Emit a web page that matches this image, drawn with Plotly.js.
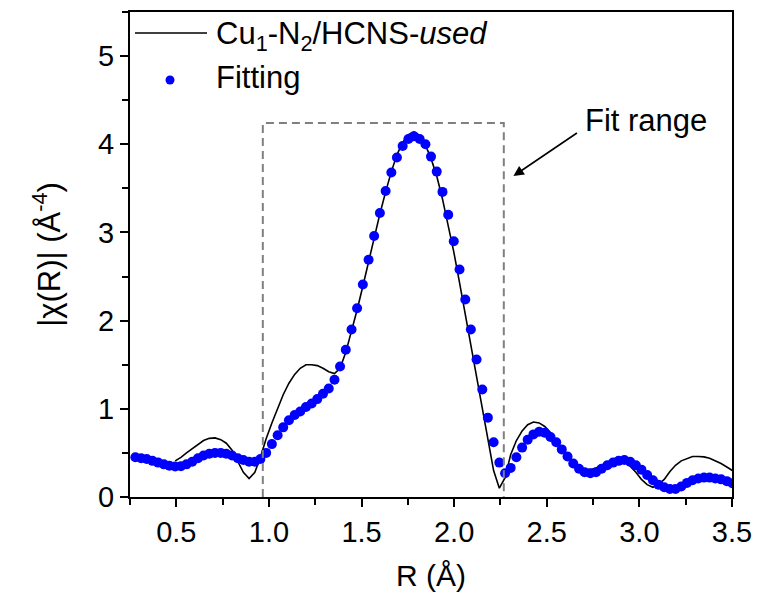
<!DOCTYPE html>
<html>
<head>
<meta charset="utf-8">
<script src="https://cdn.plot.ly/plotly-3.0.1.min.js"></script>
<style>html,body{margin:0;padding:0;background:#fff;}#chart{width:758px;height:598px;}</style>
</head>
<body>
<div id="chart"></div>
<script>
// R grid (Å) of the fitting points
const R_FIT = [0.279,0.310,0.340,0.371,0.402,0.433,0.463,0.494,0.525,0.555,0.586,0.617,0.647,0.678,0.709,0.740,0.770,0.801,0.832,0.862,0.893,0.924,0.954,0.985,1.016,1.047,1.077,1.108,1.139,1.169,1.200,1.231,1.261,1.292,1.323,1.354,1.384,1.415,1.446,1.476,1.507,1.538,1.568,1.599,1.630,1.661,1.691,1.722,1.753,1.783,1.814,1.845,1.875,1.906,1.937,1.968,1.998,2.029,2.060,2.090,2.121,2.152,2.182,2.213,2.244,2.275,2.305,2.336,2.367,2.397,2.428,2.459,2.489,2.520,2.551,2.581,2.612,2.643,2.674,2.704,2.735,2.766,2.796,2.827,2.858,2.888,2.919,2.950,2.981,3.011,3.042,3.073,3.103,3.134,3.165,3.195,3.226,3.257,3.287,3.318,3.349,3.379,3.410,3.441,3.472,3.502];
// |chi(R)| of the fit
const FIT = [0.45,0.44,0.43,0.41,0.39,0.37,0.355,0.345,0.35,0.37,0.40,0.44,0.47,0.49,0.50,0.50,0.49,0.47,0.44,0.42,0.40,0.40,0.43,0.50,0.60,0.70,0.79,0.87,0.93,0.97,1.02,1.06,1.11,1.17,1.23,1.33,1.48,1.67,1.90,2.14,2.41,2.69,2.96,3.22,3.47,3.68,3.85,3.98,4.06,4.09,4.06,4.00,3.86,3.69,3.46,3.20,2.90,2.58,2.24,1.90,1.56,1.22,0.90,0.62,0.39,0.27,0.33,0.45,0.56,0.65,0.71,0.74,0.73,0.68,0.62,0.54,0.46,0.38,0.32,0.28,0.27,0.28,0.32,0.36,0.39,0.41,0.42,0.40,0.36,0.31,0.25,0.19,0.14,0.11,0.09,0.09,0.12,0.16,0.19,0.21,0.22,0.22,0.21,0.20,0.18,0.155];
// R grid (Å) of the measured curve
const R_USED = [0.494,0.525,0.555,0.586,0.617,0.647,0.678,0.709,0.740,0.770,0.801,0.832,0.862,0.893,0.924,0.954,0.985,1.016,1.047,1.077,1.108,1.139,1.169,1.200,1.231,1.261,1.292,1.323,1.354,1.384,1.415,1.446,1.476,1.507,1.538,1.568,1.599,1.630,1.661,1.691,1.722,1.753,1.783,1.814,1.845,1.875,1.906,1.937,1.968,1.998,2.029,2.060,2.090,2.121,2.152,2.182,2.213,2.244,2.275,2.305,2.336,2.367,2.397,2.428,2.459,2.489,2.520,2.551,2.581,2.612,2.643,2.674,2.704,2.735,2.766,2.796,2.827,2.858,2.888,2.919,2.950,2.981,3.011,3.042,3.073,3.103,3.134,3.165,3.195,3.226,3.257,3.287,3.318,3.349,3.379,3.410,3.441,3.472,3.502];
// |chi(R)| of Cu1-N2/HCNS-used
const USED = [0.41,0.45,0.50,0.55,0.60,0.64,0.665,0.67,0.65,0.61,0.53,0.40,0.28,0.21,0.28,0.45,0.66,0.84,1.01,1.16,1.29,1.39,1.46,1.50,1.50,1.49,1.46,1.42,1.40,1.46,1.64,1.87,2.12,2.39,2.67,2.94,3.21,3.46,3.69,3.88,4.02,4.11,4.14,4.10,3.99,3.84,3.64,3.38,3.08,2.78,2.43,2.07,1.71,1.37,1.00,0.62,0.30,0.10,0.22,0.48,0.64,0.75,0.82,0.85,0.84,0.80,0.73,0.64,0.55,0.46,0.39,0.34,0.31,0.31,0.33,0.36,0.39,0.41,0.41,0.40,0.35,0.28,0.20,0.14,0.11,0.14,0.20,0.29,0.36,0.41,0.44,0.46,0.46,0.455,0.44,0.41,0.38,0.34,0.30];

const FIT_RANGE = [0.967, 2.268];
const FIT_BOX_TOP = 4.24;
const SERIES_NAMES = ['Cu<sub>1</sub>-N<sub>2</sub>/HCNS-<i>used</i>', 'Fitting'];
const X_TITLE = 'R (Å)';
const Y_TITLE = '|χ(R)| (Å<sup>-4</sup>)';
const RANGE_LABEL = 'Fit range';

const FONT = 'Arial, "Liberation Sans", sans-serif';

const traces = [
  {x: R_USED, y: USED, type: 'scatter', mode: 'lines', name: SERIES_NAMES[0],
   line: {color: '#000000', width: 1.6}, showlegend: false},
  {x: R_FIT, y: FIT, type: 'scatter', mode: 'markers', name: SERIES_NAMES[1],
   marker: {color: '#0000FF', size: 10, line: {width: 0}}, showlegend: false}
];

const W = 602, H = 485;
function px(p){ return (p - 130) / W; }
function py(p){ return (497 - p) / H; }

const layout = {
  width: 758, height: 598,
  margin: {l: 130, r: 26, t: 12, b: 101},
  paper_bgcolor: '#ffffff', plot_bgcolor: '#ffffff',
  font: {family: FONT, color: '#000000', size: 29},
  showlegend: false,
  xaxis: {
    range: [0.25, 3.5], tick0: 0.5, dtick: 0.5, tickformat: '.1f',
    ticks: 'outside', ticklen: 8, tickwidth: 2, tickcolor: '#000',
    showline: true, linewidth: 2, linecolor: '#000', mirror: true,
    showgrid: false, zeroline: false,
    tickfont: {size: 29, family: FONT},
    minor: {tick0: 0.25, dtick: 0.25, ticks: 'outside', ticklen: 6, tickwidth: 2, tickcolor: '#000', showgrid: false},
    title: {text: X_TITLE, font: {size: 30, family: FONT}, standoff: 18}
  },
  yaxis: {
    range: [0, 5.5], tick0: 0, dtick: 1, tickformat: 'd',
    ticks: 'outside', ticklen: 8, tickwidth: 2, tickcolor: '#000',
    showline: true, linewidth: 2, linecolor: '#000', mirror: true,
    showgrid: false, zeroline: false,
    tickfont: {size: 29, family: FONT},
    minor: {tick0: 0, dtick: 0.5, ticks: 'outside', ticklen: 6, tickwidth: 2, tickcolor: '#000', showgrid: false},
    title: {text: Y_TITLE, font: {size: 31, family: FONT}, standoff: 28}
  },
  shapes: [
    {type: 'path', xref: 'x', yref: 'y',
     path: 'M' + FIT_RANGE[0] + ',0 L' + FIT_RANGE[0] + ',' + FIT_BOX_TOP + ' L' + FIT_RANGE[1] + ',' + FIT_BOX_TOP + ' L' + FIT_RANGE[1] + ',0',
     line: {color: '#808080', width: 2, dash: '8px,5px'}},
    // legend line sample
    {type: 'line', xref: 'paper', yref: 'paper', x0: px(135), x1: px(207), y0: py(33), y1: py(33),
     line: {color: '#000000', width: 1.6}},
    // legend marker sample
    {type: 'circle', xref: 'paper', yref: 'paper', xsizemode: 'pixel', ysizemode: 'pixel',
     xanchor: px(170), yanchor: py(80), x0: -4.5, x1: 4.5, y0: -4.5, y1: 4.5,
     fillcolor: '#0000FF', line: {width: 0}}
  ],
  annotations: [
    {xref: 'paper', yref: 'paper', x: px(214), y: py(36), xanchor: 'left', yanchor: 'middle',
     text: SERIES_NAMES[0], showarrow: false, font: {size: 31, family: FONT}},
    {xref: 'paper', yref: 'paper', x: px(214), y: py(78), xanchor: 'left', yanchor: 'middle',
     text: SERIES_NAMES[1], showarrow: false, font: {size: 31, family: FONT}},
    {xref: 'paper', yref: 'paper', x: px(646), y: py(120), xanchor: 'center', yanchor: 'middle',
     text: RANGE_LABEL, showarrow: false, font: {size: 31, family: FONT}},
    {xref: 'x', yref: 'y', x: 2.32, y: 3.64, text: '', showarrow: true,
     ax: 65, ay: -44, arrowhead: 2, arrowsize: 1.3, arrowwidth: 1.6, arrowcolor: '#000'}
  ]
};

Plotly.newPlot('chart', traces, layout, {displayModeBar: false, staticPlot: true});
</script>
</body>
</html>
